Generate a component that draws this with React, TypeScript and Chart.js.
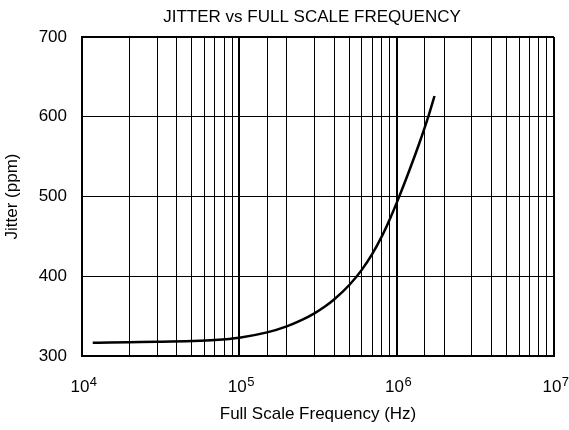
import React, { useEffect, useRef } from 'react';
import { Chart, registerables } from 'chart.js';

Chart.register(...registerables);

const chartTitle = 'JITTER vs FULL SCALE FREQUENCY';
const xAxisTitle = 'Full Scale Frequency (Hz)';
const yAxisTitle = 'Jitter (ppm)';

const frequencyHz = [
  1.17e4, 1.5e4, 2e4, 3e4, 5e4, 7e4, 1e5, 1.5e5, 2e5, 2.5e5, 3e5, 3.5e5, 4e5,
  5e5, 6e5, 7e5, 8e5, 9e5, 1e6, 1.2e6, 1.4e6, 1.6e6, 1.74e6,
];
const jitterPpm = [
  316.5, 316.9, 317.3, 317.8, 318.8, 320.1, 323, 329.6, 337.2, 345.3, 353.5, 362, 370.8,
  389, 408, 428, 449, 470.6, 492, 532, 568, 602, 626,
];

const xMin = 1e4;
const xMax = 1e7;
const xTickBase = '10';
const xTickExponents = ['4', '5', '6', '7'];

const yMin = 300;
const yMax = 700;
const yStep = 100;

const FONT = '"Liberation Sans", Arial, Helvetica, sans-serif';

function isDecade(v: number): boolean {
  const e = Math.log10(v);
  return Math.abs(e - Math.round(e)) < 1e-9;
}

const layoutPlugin = {
  id: 'titleOverPlot',
  afterLayout(chart: any) {
    const tb = chart.titleBlock;
    const ca = chart.chartArea;
    if (tb && ca) {
      tb.left = ca.left - 12;
      tb.right = ca.right;
    }
  },
};

const powerLabelPlugin = {
  id: 'powerLabels',
  afterDraw(chart: any) {
    const ctx = chart.ctx as CanvasRenderingContext2D;
    const xs = chart.scales.x;
    const ca = chart.chartArea;
    ctx.save();
    ctx.fillStyle = '#000';
    ctx.textBaseline = 'alphabetic';
    ctx.textAlign = 'left';
    const baseY = ca.bottom + 36;
    xTickExponents.forEach((exp) => {
      const value = Math.pow(10, Number(exp));
      const px = xs.getPixelForValue(value);
      ctx.font = `17px ${FONT}`;
      const wBase = ctx.measureText(xTickBase).width;
      ctx.font = `13px ${FONT}`;
      const wExp = ctx.measureText(exp).width;
      const start = px - (wBase + wExp) / 2 + 1.5;
      ctx.font = `17px ${FONT}`;
      ctx.fillText(xTickBase, start, baseY);
      ctx.font = `13px ${FONT}`;
      ctx.fillText(exp, start + wBase + 0.5, baseY - 6);
    });
    ctx.restore();
  },
};

export default function App() {
  const canvasRef = useRef<HTMLCanvasElement | null>(null);

  useEffect(() => {
    document.body.style.margin = '0';
    const canvas = canvasRef.current;
    if (!canvas) return;

    const points = frequencyHz.map((f, i) => ({ x: f, y: jitterPpm[i] }));

    const chart = new Chart(canvas, {
      type: 'line',
      data: {
        datasets: [
          {
            data: points,
            borderColor: '#000',
            borderWidth: 2.5,
            pointRadius: 0,
            cubicInterpolationMode: 'monotone',
            fill: false,
          },
        ],
      },
      options: {
        animation: false,
        responsive: false,
        maintainAspectRatio: false,
        layout: { padding: { left: 0, right: 15, top: 0, bottom: 0 } },
        plugins: {
          legend: { display: false },
          tooltip: { enabled: false },
          title: {
            display: true,
            text: chartTitle,
            color: '#000',
            font: { family: FONT, size: 17, weight: 'normal' },
            padding: { top: 7, bottom: 9.6 },
          },
        },
        scales: {
          x: {
            type: 'logarithmic',
            min: xMin,
            max: xMax,
            afterFit: (scale: any) => {
              scale.height = 74;
            },
            border: { display: true, color: '#000', width: 2 },
            grid: {
              color: '#000',
              drawTicks: false,
              lineWidth: (ctx: any) => {
                const v = ctx.tick ? ctx.tick.value : 0;
                return isDecade(v) ? 2 : 1;
              },
            },
            ticks: {
              display: false,
              autoSkip: false,
            },
            title: {
              display: true,
              text: xAxisTitle,
              color: '#000',
              font: { family: FONT, size: 17 },
              padding: { top: 0, bottom: 5 },
            },
          },
          y: {
            type: 'linear',
            min: yMin,
            max: yMax,
            afterFit: (scale: any) => {
              scale.width = 82;
            },
            border: { display: true, color: '#000', width: 2 },
            grid: {
              color: '#000',
              drawTicks: false,
              lineWidth: (ctx: any) => {
                const v = ctx.tick ? ctx.tick.value : 0;
                return v === yMax ? 2 : 1;
              },
            },
            ticks: {
              stepSize: yStep,
              padding: 15,
              color: '#000',
              font: { family: FONT, size: 17 },
            },
            title: {
              display: true,
              text: yAxisTitle,
              color: '#000',
              font: { family: FONT, size: 17 },
              padding: { top: 2, bottom: 0 },
            },
          },
        },
      },
      plugins: [layoutPlugin, powerLabelPlugin],
    } as any);

    return () => {
      chart.destroy();
    };
  }, []);

  return (
    <div style={{ width: 569, height: 430 }}>
      <canvas ref={canvasRef} width={569} height={430} style={{ width: 569, height: 430, display: 'block' }} />
    </div>
  );
}
